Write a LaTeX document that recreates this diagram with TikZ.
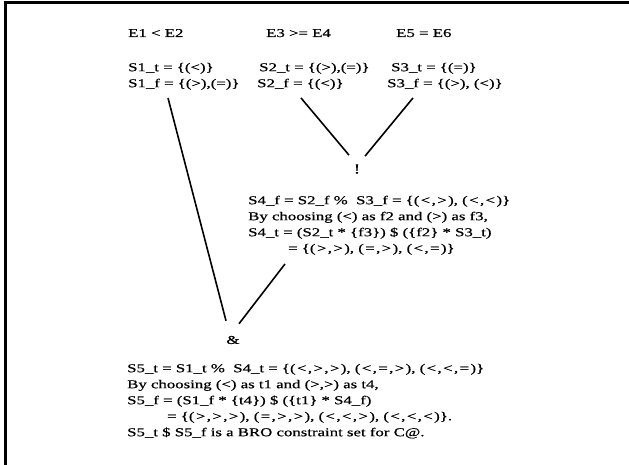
\documentclass[tikz,border=0pt]{standalone}
\usepackage{fontspec}
\setmainfont{Liberation Serif}[FakeStretch=1.4, FakeBold=0.6]
\usetikzlibrary{positioning}
% relation marks inside the tuples sit a little wider
\newcommand\Lt{\kern1.4pt<\kern1.4pt}
\newcommand\Gt{\kern1.4pt>\kern1.4pt}
\newcommand\Eq{\kern1.4pt=\kern1.4pt}
\tikzset{
  T/.style={anchor=north west, inner sep=0pt, align=left,
    font=\fontsize{12}{16}\selectfont},
  Th/.style={T, anchor=base west},
  L/.style={line width=1.6pt},
}
\begin{document}
\begin{tikzpicture}[x=1pt,y=-1pt]
\useasboundingbox (0,0) rectangle (629,465);
% frame
\draw[line width=3pt] (5,465) -- (5,2.5) -- (629,2.5);

% comparisons
\node[Th] (e12) at (128,37) {E1 < E2};
\node[Th] (e34) at (266,37) {E3 >= E4};
\node[Th] (e56) at (396,37) {E5 = E6};

% leaf sets
\node[T] (s1) at (128,59.8) {\strut S1\_t = \{(<)\}\\S1\_f = \{(>),(=)\}};
\node[T] (s2) at (257,59.8) {\strut\hspace*{2pt}S2\_t = \{(>),(=)\}\\S2\_f = \{(<)\}};
\node[T] (s3) at (387,59.8) {\strut\hspace*{4pt}S3\_t = \{(=)\}\\S3\_f = \{(>), (<)\}};

% or node
\node[T, anchor=center, font=\fontsize{14}{14}\selectfont] (or) at (357,169) {!};

\draw[L] ([xshift=44pt,yshift=-8pt]s2.south west) -- ([xshift=-8pt,yshift=9pt]or.north);
\draw[L] ([xshift=26pt,yshift=-8pt]s3.south west) -- ([xshift=8pt,yshift=8pt]or.north);

% S4
\node[T] (s4) at (248,192.8) {\strut S4\_f = S2\_f \%~~S3\_f = \{(\Lt,\Gt), (\Lt,\Lt)\}\\
  By choosing (<) as f2 and (>) as f3,\\
  S4\_t = (S2\_t * \{f3\}) \$ (\{f2\} * S3\_t)\\
  \hspace*{40pt}= \{(\Gt,\Gt), (\Eq,\Gt), (\Lt,\Eq)\}};

% and node
\node[T, anchor=center] (amp) at (233,340) {\&};

\draw[L] ([xshift=40pt,yshift=-8pt]s1.south west) -- ([xshift=-7pt,yshift=15pt]amp.north);
\draw[L] ([xshift=37pt,yshift=-9pt]s4.south west) -- ([xshift=6pt,yshift=12pt]amp.north);

% S5
\node[T] (s5) at (127,360.8) {\strut S5\_t = S1\_t \%~~S4\_t = \{(\Lt,\Gt,\Gt), (\Lt,\Eq,\Gt), (\Lt,\Lt,\Eq)\}\\
  By choosing (<) as t1 and (>,>) as t4,\\
  S5\_f = (S1\_f * \{t4\}) \$ (\{t1\} * S4\_f)\\
  \hspace*{40pt}= \{(\Gt,\Gt,\Gt), (\Eq,\Gt,\Gt), (\Lt,\Lt,\Gt), (\Lt,\Lt,\Lt)\}.\\
  S5\_t \$ S5\_f is a BRO constraint set for C@.};
\end{tikzpicture}
\end{document}
